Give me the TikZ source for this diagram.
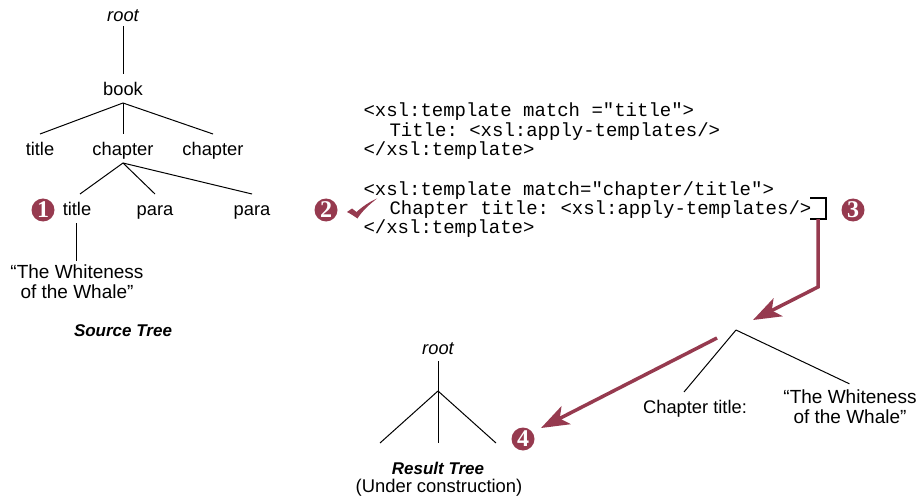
\documentclass[tikz,border=0pt]{standalone}
\usepackage{fontspec}
\setmainfont{Liberation Sans}
\setmonofont{Liberation Mono}
\newfontfamily\digitfont{Liberation Serif}
\usepackage{tikz}
\usetikzlibrary{arrows.meta}
\definecolor{maroon}{HTML}{963A4F}
\tikzset{
  lab/.style={inner sep=0pt, text height=21pt, text depth=4pt, font=\fontsize{18.3}{20}\selectfont},
  rootlab/.style={lab, font=\fontsize{18.3}{20}\selectfont\itshape},
  quote/.style={inner xsep=0pt, inner ysep=4pt, align=center, font=\fontsize{19}{20}\selectfont},
  title/.style={inner sep=0pt, font=\fontsize{17}{20}\selectfont\bfseries\itshape},
  code/.style={inner sep=0pt, anchor=west, font=\fontsize{19}{22}\selectfont\ttfamily},
  num/.style={circle, fill=maroon, text=white, minimum size=23pt, inner sep=0pt, font=\fontsize{24}{24}\selectfont\digitfont\bfseries},
  redline/.style={maroon, line width=3.5pt, line join=miter},
  redarrow/.style={redline, -{Stealth[length=28pt, width=20pt, inset=7pt]}}
}
\begin{document}
\begin{tikzpicture}[x=1pt, y=-1pt, line width=1pt]
  \useasboundingbox (0,0) rectangle (919,500);

  % source tree
  \node[rootlab] (A) at (123,13) {root};
  \node[lab] (B) at (123,87) {book};
  \node[lab] (C) at (40,147) {title};
  \node[lab] (D) at (123,147) {chapter};
  \node[lab] (E) at (213,147) {chapter};
  \node[lab] (F) at (77,207) {title};
  \node[lab] (G) at (155,207) {para};
  \node[lab] (H) at (252,207) {para};
  \node[quote] (I) at (77,282) {``The Whiteness\\of the Whale''};
  \node[title] (J) at (123,331) {Source Tree};
  \coordinate (K) at (123,103);
  \coordinate (L) at (123,163);
  \draw (A) -- (B);
  \draw (K) -- (C.north);
  \draw (K) -- (D.north);
  \draw (K) -- (E.north);
  \draw (L) -- ([xshift=3pt]F.north);
  \draw (L) -- (G.north);
  \draw (L) -- (H.north);
  \draw[shorten <=3pt] ([xshift=-1pt]F.south) -- ([xshift=-1pt]I.north);

  % templates
  \node[code] (T1) at (363,112) {<xsl:template match ="title">};
  \node[code] (T2) at (389,132) {Title: <xsl:apply-templates/>};
  \node[code] (T3) at (363,151) {</xsl:template>};
  \node[code] (T4) at (363,191) {<xsl:template match="chapter/title">};
  \node[code] (T5) at (389,210) {Chapter title: <xsl:apply-templates/>};
  \node[code] (T6) at (363,229) {</xsl:template>};

  % bracket and check mark
  \coordinate (M) at (810,198);
  \coordinate (N) at (826,198);
  \coordinate (O) at (826,219);
  \coordinate (P) at (810,219);
  \draw[line width=2pt] (M) -- (N) -- (O) -- (P);
  \fill[maroon] (347,212) -- (352,208.5) -- (356.5,212) .. controls (362,207) and (369,202) .. (377,198.5)
    .. controls (370,204) and (362,211) .. (357.5,218.5) .. controls (354,216) and (350,213.5) .. (347,212) -- cycle;

  % result tree
  \node[rootlab] (Q) at (438,346) {root};
  \coordinate (R) at (438,391);
  \coordinate (S) at (380,443);
  \coordinate (U) at (438,443);
  \coordinate (V) at (496,443);
  \draw[shorten <=2pt] (Q.south) -- (R);
  \draw (R) -- (S);
  \draw (R) -- (U);
  \draw (R) -- (V);
  \node[title] (W) at (438,468) {Result Tree};
  \node[inner sep=0pt, font=\fontsize{18.4}{20}\selectfont] (X) at (439,488) {(Under construction)};

  % tree fragment
  \coordinate (Y) at (736,330);
  \node[lab] (Z) at (695,405) {Chapter title:};
  \node[quote] (AA) at (850,407) {``The Whiteness\\of the Whale''};
  \draw (Y) -- ([xshift=-11pt]Z.north);
  \draw[shorten >=4pt] (Y) -- ([xshift=3pt]AA.north);

  % numbers
  \node[num] (N1) at (43,210) {1};
  \node[num] (N2) at (326,210) {2};
  \node[num] (N3) at (853,210) {3};
  \node[num] (N4) at (523,439) {4};

  % red arrows
  \coordinate (R1) at (818,219);
  \coordinate (R2) at (818,287);
  \coordinate (R3) at (753,320);
  \coordinate (R4) at (717,338);
  \coordinate (R5) at (541,428);
  \draw[redarrow] (R1) -- (R2) -- (R3);
  \draw[redarrow] (R4) -- (R5);
\end{tikzpicture}
\end{document}
